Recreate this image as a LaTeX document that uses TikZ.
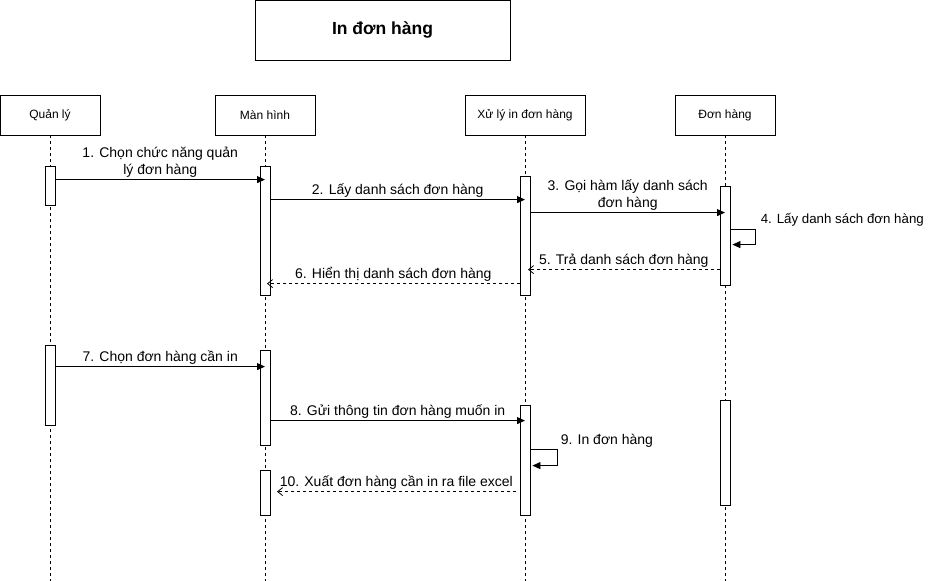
\documentclass[tikz,border=0pt]{standalone}
\usepackage{fontspec}
\setmainfont{Liberation Sans}
\usetikzlibrary{arrows.meta,calc}

\begin{document}
\begin{tikzpicture}[x=1pt, y=-1pt, line width=0.8pt,
  head/.style={draw, minimum width=100pt, minimum height=40pt, font=\fontsize{12}{14}\selectfont},
  act/.style={draw, fill=white, minimum width=10pt, inner sep=0pt},
  life/.style={dash pattern=on 3pt off 3pt},
  msg/.style={-{Triangle[length=8pt,width=7pt]}},
  ret/.style={dash pattern=on 3pt off 3pt, -{Straight Barb[length=5pt,width=8pt]}},
  lbl/.style={font=\fontsize{14}{17}\selectfont, align=center, inner sep=1pt}]
\useasboundingbox (0,0) rectangle (930,581);
\node[draw, minimum width=255pt, minimum height=60pt, font=\bfseries\fontsize{17.5}{20}\selectfont] (title) at (382.5,30) {In đơn hàng};
\node[head] (ql) at (50,115) {Quản lý};
\node[head] (mh) at (265,115) {Màn hình};
\node[head, minimum width=120pt] (xl) at (525,115) {Xử lý in đơn hàng};
\node[head] (dh) at (725,115) {Đơn hàng};
\coordinate (bottom) at (0,581);
\foreach \h in {ql,mh,xl,dh}
  \draw[life] (\h.south) -- (\h.south |- bottom);

\node[act, minimum height=39pt] (q1) at (50,185.5) {};
\node[act, minimum height=129pt] (m1) at (265,230.5) {};
\node[act, minimum height=119pt] (x1) at (525,235.5) {};
\node[act, minimum height=99pt] (d1) at (725,235.5) {};
\node[act, minimum height=80pt] (q2) at (50,385) {};
\node[act, minimum height=95pt] (m2) at (265,397.5) {};
\node[act, minimum height=45pt] (m3) at (265,492.5) {};
\node[act, minimum height=110pt] (x2) at (525,460) {};
\node[act, minimum height=105pt] (d2) at (725,452.5) {};

\draw[msg] ([yshift=-14pt]q1.north east) coordinate (s1) -- (s1 -| m1)
  node[lbl, midway, above=1pt] {1. Chọn chức năng quản\\lý đơn hàng};
\draw[msg] ([yshift=-34pt]m1.north east) coordinate (s2) -- (s2 -| x1)
  node[lbl, midway, above=1pt] {2. Lấy danh sách đơn hàng};
\draw[msg] ([yshift=-37pt]x1.north east) coordinate (s3) -- (s3 -| d1)
  node[lbl, midway, above=1pt] {3. Gọi hàm lấy danh sách\\đơn hàng};
\draw[msg] ([yshift=-44pt]d1.north east) coordinate (s4) -- ++(25pt,0pt) -- ++(0pt,-15pt) -- ++(-23pt,0pt);
\node[lbl, anchor=west, inner sep=0pt, font=\fontsize{13.3}{16}\selectfont] (l4) at ([xshift=30pt,yshift=10pt]s4) {4. Lấy danh sách đơn hàng};
\draw[ret] ([yshift=-84pt]d1.north west) coordinate (s5) -- ($(s5 -| x1)+(3pt,0)$)
  node[lbl, midway, above=1pt] {5. Trả danh sách đơn hàng};
\draw[ret] ([yshift=-108pt]x1.north west) coordinate (s6) -- ($(s6 -| m1)+(2pt,0)$)
  node[lbl, midway, above=1pt] {6. Hiển thị danh sách đơn hàng};

\draw[msg] ([yshift=-22pt]q2.north east) coordinate (s7) -- (s7 -| m2)
  node[lbl, midway, above=1pt] {7. Chọn đơn hàng cần in};
\draw[msg] ([yshift=-71pt]m2.north east) coordinate (s8) -- (s8 -| x2)
  node[lbl, midway, above=1pt] {8. Gửi thông tin đơn hàng muốn in};
\draw[msg] ([yshift=-45pt]x2.north east) coordinate (s9) -- ++(27pt,0pt) -- ++(0pt,-16pt) -- ++(-25pt,0pt);
\node[lbl, anchor=west] (l9) at ([xshift=29pt,yshift=9pt]s9) {9. In đơn hàng};
\draw[ret] ($([yshift=-87pt]x2.north west)+(-4pt,0)$) coordinate (s10) -- ($(s10 -| m3)+(12pt,0)$)
  node[lbl, midway, above=1pt] {10. Xuất đơn hàng cần in ra file excel};
\end{tikzpicture}
\end{document}
